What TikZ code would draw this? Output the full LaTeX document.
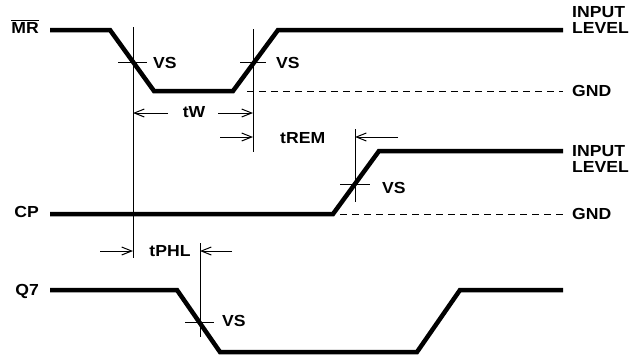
\documentclass[tikz,border=0pt]{standalone}
\usepackage{fontspec}
\setmainfont{Liberation Sans}[FakeStretch=1.1]
\usetikzlibrary{arrows.meta}

\tikzset{
  wave/.style={line width=4.5pt},
  guide/.style={line width=0.8pt},
  gnd/.style={line width=0.8pt, dash pattern=on 7pt off 5pt},
  dim/.style={line width=0.8pt, -{Straight Barb[length=10pt,width=8pt,line width=1pt]}},
  lbl/.style={font=\bfseries\fontsize{16}{16}\selectfont, inner sep=0pt}
}

\begin{document}
\begin{tikzpicture}[x=1pt, y=-1pt]
  \useasboundingbox (0,0) rectangle (642,356);

  % signal names and levels
  \node[lbl, anchor=base east] (mr) at (39,33) {$\overline{\mbox{MR}}$};
  \node[lbl, anchor=base east] (cp) at (39,217) {CP};
  \node[lbl, anchor=base east] (q7) at (39,295) {Q7};
  \node[lbl, anchor=west, align=left] (mrhigh) at (572,19.5) {INPUT\\LEVEL};
  \node[lbl, anchor=base west] (mrgnd) at (572,96) {GND};
  \node[lbl, anchor=west, align=left] (cphigh) at (572,159) {INPUT\\LEVEL};
  \node[lbl, anchor=base west] (cpgnd) at (572,219) {GND};

  % waveforms
  \draw[wave] (50,30) -- (110,30) -- (154,91) -- (233,91) -- (278,30) -- (563,30);
  \draw[wave] (50,214) -- (333,214) -- (379,151) -- (563,151);
  \draw[wave] (50,290) -- (177,290) -- (220,352) -- (417,352) -- (460,290) -- (563,290);
  \draw[gnd] (247,91) -- (563,91);
  \draw[gnd] (340,214) -- (563,214);

  % reference lines
  \coordinate (mrfall) at (133,62);
  \coordinate (mrrise) at (253,62);
  \coordinate (cprise) at (355,184);
  \coordinate (q7fall) at (200,322);
  \draw[guide] (133,27) -- (133,258);
  \draw[guide] (253,29) -- (253,152);
  \draw[guide] (355,129) -- (355,202);
  \draw[guide] (200,243) -- (200,337);
  \draw[guide] ([xshift=-15pt]mrfall) -- ([xshift=14pt]mrfall);
  \draw[guide] ([xshift=-13pt]mrrise) -- ([xshift=13pt]mrrise);
  \draw[guide] ([xshift=-15pt]cprise) -- ([xshift=15pt]cprise);
  \draw[guide] ([xshift=-15pt]q7fall) -- ([xshift=14pt]q7fall);
  \node[lbl, anchor=base west] (vs1) at (153,68) {VS};
  \node[lbl, anchor=base west] (vs2) at (276,68) {VS};
  \node[lbl, anchor=base west] (vs3) at (382,193) {VS};
  \node[lbl, anchor=base west] (vs4) at (222,326) {VS};

  % timing intervals
  \node[lbl, anchor=base] (tw) at (194,117) {tW};
  \coordinate (twl) at (133,113);
  \coordinate (twr) at (253,113);
  \draw[dim] (168,113) -- (twl);
  \draw[dim] (218,113) -- (twr);

  \node[lbl, anchor=base west] (trem) at (280,143) {tREM};
  \coordinate (treml) at (253,137);
  \coordinate (tremr) at (355,137);
  \draw[dim] (220,137) -- (treml);
  \draw[dim] (398,137) -- (tremr);

  \node[lbl, anchor=base] (tphl) at (170,256) {tPHL};
  \coordinate (tphll) at (133,251);
  \coordinate (tphlr) at (200,251);
  \draw[dim] (100,251) -- (tphll);
  \draw[dim] (232,251) -- (tphlr);
\end{tikzpicture}
\end{document}
